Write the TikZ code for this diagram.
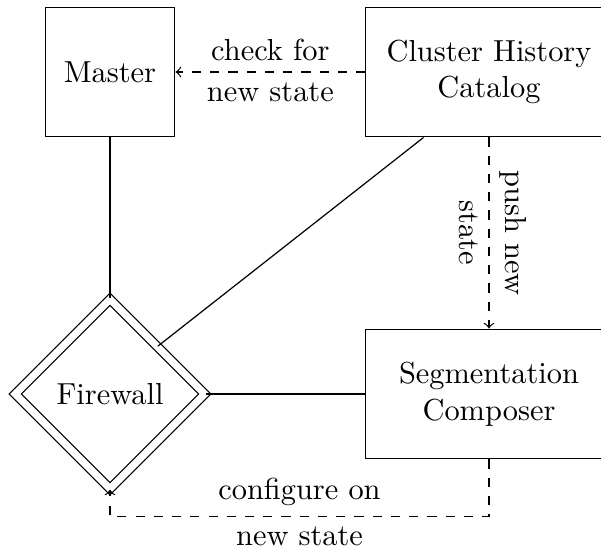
\documentclass[tikz,border=0pt]{standalone}
\usetikzlibrary{shapes.geometric}
\tikzset{
  block/.style={draw, align=center, minimum width=1.5cm, minimum height=1.5cm},
  wideblock/.style={block, minimum width=81pt},
  guard/.style={draw, diamond, double, double distance=2.4pt, minimum size=62.5pt, inner sep=0pt},
  link/.style={draw},
  flow/.style={draw, dashed, ->},
}
\begin{document}
\begin{tikzpicture}[x=0.3289pt, y=-0.3289pt]
  \useasboundingbox (0,0) rectangle (601,554);

  % components
  \node[block] (master) at (110,72) {Master};
  \node[wideblock] (cluster) at (489,72) {Cluster History\\Catalog};
  \node[wideblock] (seg) at (489,394) {Segmentation\\Composer};
  \node[guard] (fw) at (110,394) {Firewall};

  % plain links to the firewall
  \path[link] (master) -- (fw);
  \path[link] (cluster.225) -- (fw.north east);
  \path[link] (fw) -- (seg);

  % state propagation
  \path[flow] (cluster) -- node[above] {check for} node[below] {new state} (master);
  \path[flow] (cluster) -- node[rotate=-90, anchor=south] {push new}
                           node[rotate=-90, anchor=north] {state} (seg);
  \path[flow] (seg.south) -- ++(0,57) -| node[pos=0.25, above] {configure on}
                                         node[pos=0.25, below] {new state} (fw.south);
\end{tikzpicture}
\end{document}
